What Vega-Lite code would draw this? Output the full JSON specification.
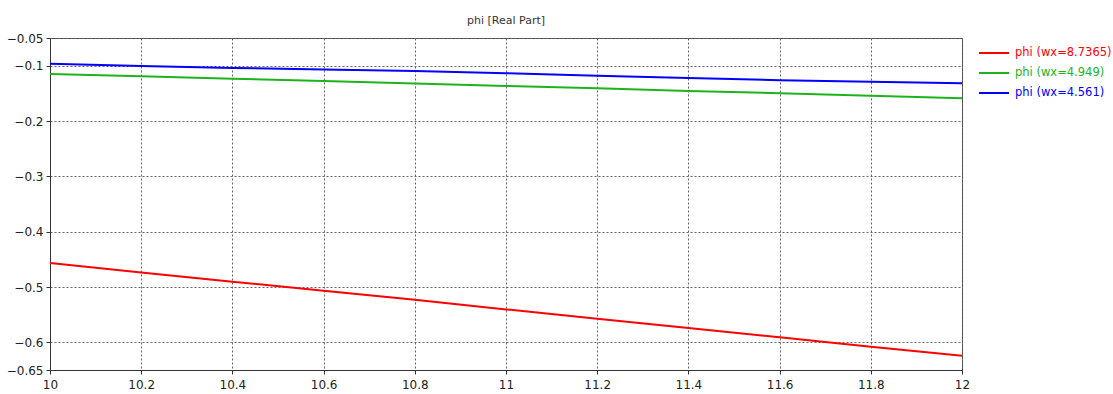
{
  "$schema": "https://vega.github.io/schema/vega-lite/v6.json",
  "width": 912,
  "height": 332,
  "autosize": {"type": "none"},
  "padding": {"left": 50, "top": 38, "right": 151, "bottom": 24},
  "background": "white",
  "title": {"text": "phi [Real Part]", "font": "DejaVu Sans", "fontSize": 11, "fontWeight": "normal", "color": "#333333", "anchor": "middle", "offset": 12, "baseline": "bottom", "dy": 17},
  "config": {
    "view": {"stroke": "#444444", "strokeWidth": 1},
    "axis": {"labelFont": "DejaVu Sans", "labelFontSize": 12, "labelColor": "#222222", "domainColor": "#333333", "tickColor": "#333333", "tickSize": 4, "gridColor": "#666666", "gridDash": [2, 2], "gridOpacity": 1, "gridWidth": 1, "title": null}
  },
  "data": {"values": [
    {"x": 10, "y": -0.4567, "s": "phi (wx=8.7365)"},
    {"x": 10.2, "y": -0.4736, "s": "phi (wx=8.7365)"},
    {"x": 10.4, "y": -0.4904, "s": "phi (wx=8.7365)"},
    {"x": 10.6, "y": -0.5067, "s": "phi (wx=8.7365)"},
    {"x": 10.8, "y": -0.5232, "s": "phi (wx=8.7365)"},
    {"x": 11, "y": -0.5405, "s": "phi (wx=8.7365)"},
    {"x": 11.2, "y": -0.5574, "s": "phi (wx=8.7365)"},
    {"x": 11.4, "y": -0.5740, "s": "phi (wx=8.7365)"},
    {"x": 11.6, "y": -0.5910, "s": "phi (wx=8.7365)"},
    {"x": 11.8, "y": -0.6080, "s": "phi (wx=8.7365)"},
    {"x": 12, "y": -0.6242, "s": "phi (wx=8.7365)"},
    {"x": 10, "y": -0.1150, "s": "phi (wx=4.949)"},
    {"x": 10.2, "y": -0.1193, "s": "phi (wx=4.949)"},
    {"x": 10.4, "y": -0.1235, "s": "phi (wx=4.949)"},
    {"x": 10.6, "y": -0.1275, "s": "phi (wx=4.949)"},
    {"x": 10.8, "y": -0.1322, "s": "phi (wx=4.949)"},
    {"x": 11, "y": -0.1367, "s": "phi (wx=4.949)"},
    {"x": 11.2, "y": -0.1410, "s": "phi (wx=4.949)"},
    {"x": 11.4, "y": -0.1458, "s": "phi (wx=4.949)"},
    {"x": 11.6, "y": -0.1498, "s": "phi (wx=4.949)"},
    {"x": 11.8, "y": -0.1542, "s": "phi (wx=4.949)"},
    {"x": 12, "y": -0.1589, "s": "phi (wx=4.949)"},
    {"x": 10, "y": -0.0965, "s": "phi (wx=4.561)"},
    {"x": 10.2, "y": -0.1005, "s": "phi (wx=4.561)"},
    {"x": 10.4, "y": -0.1040, "s": "phi (wx=4.561)"},
    {"x": 10.6, "y": -0.1070, "s": "phi (wx=4.561)"},
    {"x": 10.8, "y": -0.1098, "s": "phi (wx=4.561)"},
    {"x": 11, "y": -0.1135, "s": "phi (wx=4.561)"},
    {"x": 11.2, "y": -0.1180, "s": "phi (wx=4.561)"},
    {"x": 11.4, "y": -0.1222, "s": "phi (wx=4.561)"},
    {"x": 11.6, "y": -0.1262, "s": "phi (wx=4.561)"},
    {"x": 11.8, "y": -0.1289, "s": "phi (wx=4.561)"},
    {"x": 12, "y": -0.1318, "s": "phi (wx=4.561)"}
  ]},
  "mark": {"type": "line", "strokeWidth": 2, "clip": true},
  "encoding": {
    "x": {"field": "x", "type": "quantitative", "scale": {"domain": [10, 12], "nice": false, "zero": false},
      "axis": {"values": [10, 10.2, 10.4, 10.6, 10.8, 11, 11.2, 11.4, 11.6, 11.8, 12], "format": ".1~f", "labelPadding": 5, "labelFlush": false, "labelOverlap": false}},
    "y": {"field": "y", "type": "quantitative", "scale": {"domain": [-0.65, -0.05], "nice": false, "zero": false},
      "axis": {"values": [-0.65, -0.6, -0.5, -0.4, -0.3, -0.2, -0.1, -0.05], "format": ".2~f", "labelPadding": 3, "labelFlush": false, "labelOverlap": false}},
    "color": {"field": "s", "type": "nominal",
      "scale": {"domain": ["phi (wx=8.7365)", "phi (wx=4.949)", "phi (wx=4.561)"], "range": ["#ff0000", "#1db31d", "#0000ff"]},
      "legend": {"orient": "none", "legendX": 938, "legendY": 9, "title": null, "padding": 0,
        "symbolType": "M-3,0H3", "symbolSize": 100, "symbolStrokeWidth": 2, "labelFont": "DejaVu Sans", "labelFontSize": 11.5, "labelOffset": 15, "rowPadding": 8,
        "encode": {"labels": {"update": {"fill": {"signal": "scale('color', datum.value)"}}}}}}
  }
}
